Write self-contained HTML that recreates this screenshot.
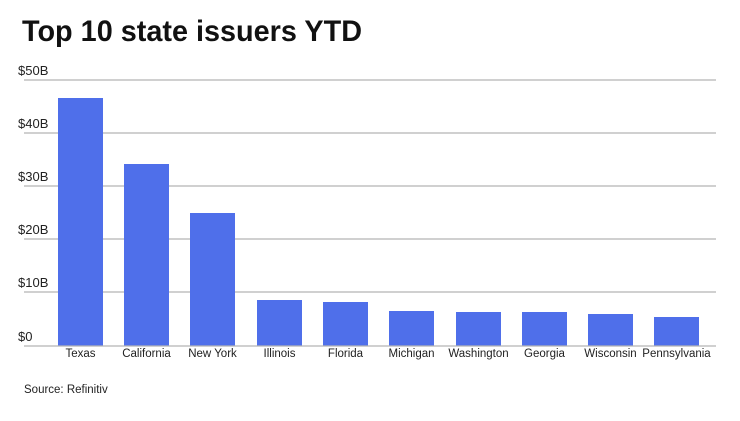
<!DOCTYPE html>
<html><head><style>
body{margin:0;background:#fff;width:740px;height:416px;overflow:hidden;font-family:"Liberation Sans",sans-serif;}
</style></head><body>
<svg width="740" height="416" xmlns="http://www.w3.org/2000/svg" font-family="Liberation Sans, sans-serif">
<text x="22" y="41" font-size="29.5" font-weight="bold" fill="#111" textLength="340" lengthAdjust="spacingAndGlyphs">Top 10 state issuers YTD</text>
<g stroke="#b5b5b5" stroke-width="1.2">
<line x1="24" x2="716" y1="80" y2="80"/>
<line x1="24" x2="716" y1="133" y2="133"/>
<line x1="24" x2="716" y1="186" y2="186"/>
<line x1="24" x2="716" y1="239" y2="239"/>
<line x1="24" x2="716" y1="292" y2="292"/>
</g>
<g font-size="13" fill="#222">
<text x="18" y="75">$50B</text>
<text x="18" y="128">$40B</text>
<text x="18" y="181">$30B</text>
<text x="18" y="234">$20B</text>
<text x="18" y="287">$10B</text>
<text x="18" y="341">$0</text>
</g>
<g fill="#4f6fea">
<rect x="58" y="98" width="45" height="248"/>
<rect x="124" y="164" width="45" height="182"/>
<rect x="190" y="213" width="45" height="133"/>
<rect x="257" y="300" width="45" height="46"/>
<rect x="323" y="302" width="45" height="44"/>
<rect x="389" y="311" width="45" height="35"/>
<rect x="456" y="312" width="45" height="34"/>
<rect x="522" y="312" width="45" height="34"/>
<rect x="588" y="314" width="45" height="32"/>
<rect x="654" y="317" width="45" height="29"/>
</g>
<line x1="24" x2="716" y1="346" y2="346" stroke="#b5b5b5" stroke-width="1.2"/>
<g font-size="11.5" fill="#222" text-anchor="middle">
<text x="80.5" y="357">Texas</text>
<text x="146.5" y="357">California</text>
<text x="212.5" y="357">New York</text>
<text x="279.5" y="357">Illinois</text>
<text x="345.5" y="357">Florida</text>
<text x="411.5" y="357">Michigan</text>
<text x="478.5" y="357">Washington</text>
<text x="544.5" y="357">Georgia</text>
<text x="610.5" y="357">Wisconsin</text>
<text x="676.5" y="357">Pennsylvania</text>
</g>
<text x="24" y="393" font-size="11.5" fill="#222">Source: Refinitiv</text>
</svg>
</body></html>
